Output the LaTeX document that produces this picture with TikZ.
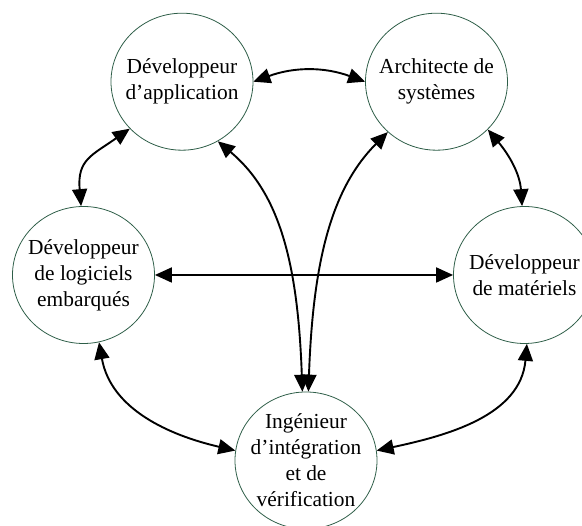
\documentclass[tikz,border=0pt]{standalone}
\usepackage{fontspec}
\setmainfont{Liberation Serif}
\usetikzlibrary{shapes.geometric}
\usetikzlibrary{arrows.meta}
\definecolor{rolegreen}{HTML}{2E5E48}

\begin{document}
\begin{tikzpicture}[x=1pt, y=1pt,
    role/.style={draw=rolegreen, line width=0.8pt, ellipse, minimum width=142pt, minimum height=137pt, inner sep=0pt},
    rolelabel/.style={align=center, inner sep=0pt, font=\fontsize{21.4}{26}\selectfont},
    link/.style={{Triangle[length=17pt,width=15pt]}-{Triangle[length=17pt,width=15pt]}, line width=1.9pt}]
    % roles around the integration engineer
    \useasboundingbox (0,0) rectangle (582,526);
    \clip (0,0) rectangle (582,526);
    \node[role, label={[rolelabel]center:{Développeur\\d’application}}] (app) at (182,444.3) {};
    \node[role, label={[rolelabel]center:{Architecte de\\systèmes}}] (archi) at (436.5,444.3) {};
    \node[role, label={[rolelabel]center:{Développeur\\de logiciels\\embarqués}}] (embedded) at (83.5,251) {};
    \node[role, label={[rolelabel]center:{Développeur\\de matériels}}] (hardware) at (524.5,251) {};
    \node[role, label={[rolelabel]center:{Ingénieur\\d’intégration\\et de\\vérification}}] (integ) at (306,65.5) {};

    \draw[link] (app.east) to[bend left=20] (archi.west);
    \draw[link] (app.222) to[out=215, in=95, looseness=1.3] (embedded.92);
    \draw[link] (archi.-43) to[out=-50, in=94] (hardware.92);
    \draw[link] (embedded.east) -- (hardware.west);
    \draw[link] (app.-59) to[out=-40, in=92, out distance=80pt, in distance=130pt] (integ.93.5);
    \draw[link] (archi.-134) to[out=-135, in=88, out distance=80pt, in distance=130pt] (integ.88);
    \draw[link] (embedded.-77) to[out=-80, in=167] (integ.172);
    \draw[link] (hardware.-88) to[out=-95, in=12] (integ.8);
\end{tikzpicture}
\end{document}
